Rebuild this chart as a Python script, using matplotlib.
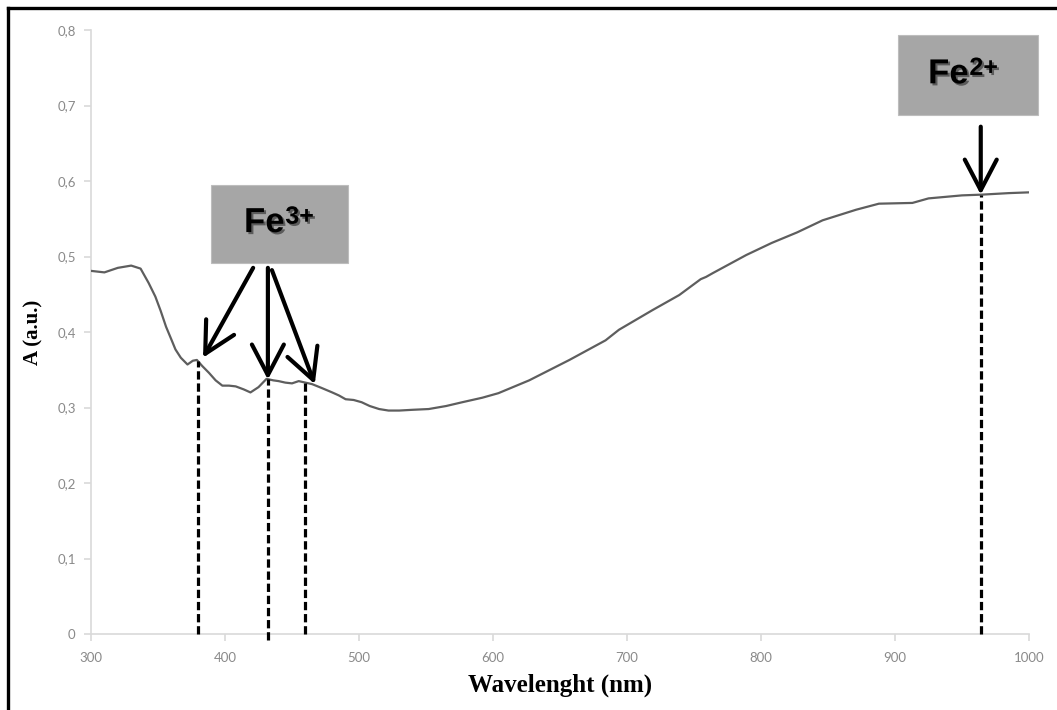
import numpy as np
import matplotlib
matplotlib.use("Agg")
import matplotlib.pyplot as plt
import matplotlib.patheffects as pe
from matplotlib.patches import Rectangle
from matplotlib.lines import Line2D

# ---- data ----
wavelength = [300, 310, 320, 330, 337, 343, 348, 352, 356, 360, 363, 367, 372, 376,
              379, 383, 388, 393, 398, 403, 408, 414, 419, 425, 431, 436, 440, 445,
              450, 455, 460, 465, 472, 480, 485, 490, 496, 502, 508, 515, 522, 530,
              540, 552, 565, 577, 592, 604, 627, 657, 684, 694, 719, 739, 755, 759,
              764, 789, 808, 827, 846, 871, 888, 913, 925, 950, 965, 985, 1000]
absorbance = [0.481, 0.479, 0.485, 0.488, 0.484, 0.465, 0.447, 0.428, 0.407, 0.390,
              0.377, 0.366, 0.357, 0.362, 0.363, 0.355, 0.346, 0.336, 0.329, 0.329,
              0.328, 0.324, 0.320, 0.327, 0.338, 0.336, 0.335, 0.333, 0.332, 0.335,
              0.333, 0.331, 0.326, 0.320, 0.316, 0.311, 0.310, 0.307, 0.302, 0.298,
              0.296, 0.296, 0.297, 0.298, 0.302, 0.307, 0.313, 0.319, 0.336, 0.363,
              0.389, 0.403, 0.429, 0.449, 0.470, 0.473, 0.478, 0.502, 0.518, 0.532,
              0.548, 0.562, 0.570, 0.571, 0.577, 0.581, 0.582, 0.584, 0.585]
fe3_peaks = [380, 432, 460]
fe2_peaks = [964]
x_ticks = [300, 400, 500, 600, 700, 800, 900, 1000]
y_ticks = [0, 0.1, 0.2, 0.3, 0.4, 0.5, 0.6, 0.7, 0.8]
y_tick_labels = ["0", "0,1", "0,2", "0,3", "0,4", "0,5", "0,6", "0,7", "0,8"]

fig = plt.figure(figsize=(10.57, 7.10), dpi=100)
ax = fig.add_axes([0.0861, 0.1070, 0.8874, 0.8507])

ax.plot(wavelength, absorbance, color='#5e5e5e', lw=1.6, zorder=3)

ax.set_xlim(300, 1000)
ax.set_ylim(0, 0.8)
ax.set_xticks(x_ticks)
ax.set_yticks(y_ticks)
ax.set_yticklabels(y_tick_labels)
for s in ['top', 'right']:
    ax.spines[s].set_visible(False)
for s in ['left', 'bottom']:
    ax.spines[s].set_color('#d9d9d9')
    ax.spines[s].set_linewidth(1.2)
ax.tick_params(axis='both', colors='#d9d9d9', labelcolor='#8a8a8a',
               labelsize=9.5, length=5, width=1.2, direction='out')
ax.tick_params(axis='y', pad=6)
ax.tick_params(axis='x', pad=8)
for lab in ax.get_xticklabels() + ax.get_yticklabels():
    lab.set_family('Lato')

ax.set_xlabel('Wavelenght (nm)', family='Liberation Serif', fontweight='bold',
              fontsize=18, color='black', labelpad=7)
ax.set_ylabel('A (a.u.)', family='Liberation Serif', fontweight='bold',
              fontsize=15, color='black', labelpad=10)

# dashed drop lines
for p in fe3_peaks + fe2_peaks:
    top = np.interp(p, wavelength, absorbance)
    ax.plot([p, p], [-0.008 if p == 432 else 0, top], color='black', lw=2.3,
            dashes=(2.6, 1.2), clip_on=False, zorder=4)

# annotation boxes
shadow = [pe.SimplePatchShadow(offset=(1.5, -1.5), shadow_rgbFace='black', alpha=0.45),
          pe.Normal()]


def ion_label(xc, yc, charge):
    base = ax.text(xc, yc, 'Fe', fontsize=25, fontweight='bold', family='Liberation Sans',
                   ha='right', va='center', color='black', path_effects=shadow,
                   zorder=6, clip_on=False)
    ax.annotate(charge, xy=(1.0, 1.0), xycoords=base, xytext=(0.5, 1.0),
                textcoords='offset points', fontsize=18, fontweight='bold',
                family='Liberation Sans', ha='left', va='top', color='black',
                path_effects=shadow, zorder=6, annotation_clip=False)


ax.add_patch(Rectangle((389.6, 0.491), 102.2, 0.104, facecolor='#a6a6a6',
                       edgecolor='#bdbdbd', lw=0.8, clip_on=False, zorder=5))
ion_label(444.5, 0.545, '3+')
ax.add_patch(Rectangle((902, 0.687), 104.7, 0.106, facecolor='#a6a6a6',
                       edgecolor='#bdbdbd', lw=0.8, clip_on=False, zorder=5))
ion_label(955, 0.742, '2+')

# arrows
arrow_kw = dict(arrowstyle='->,head_length=2.2,head_width=1.15', color='black',
                lw=3.0, shrinkA=0, shrinkB=0, mutation_scale=10)
starts_fe3 = [(421, 0.485), (432, 0.485), (435, 0.482)]
tips_fe3 = [(383.6, 0.366), (432, 0.337), (467, 0.331)]
for s, t in zip(starts_fe3, tips_fe3):
    ax.annotate('', xy=t, xytext=s, arrowprops=arrow_kw, zorder=7)
ax.annotate('', xy=(fe2_peaks[0], np.interp(fe2_peaks[0], wavelength, absorbance)),
            xytext=(fe2_peaks[0], 0.672), arrowprops=arrow_kw, zorder=7)

# outer frame (top and left edges)
fig.add_artist(Line2D([8/1057, 1], [1 - 8/710, 1 - 8/710], color='black', lw=2.4,
                      transform=fig.transFigure))
fig.add_artist(Line2D([8/1057, 8/1057], [0, 1 - 8/710], color='black', lw=2.4,
                      transform=fig.transFigure))

fig.savefig('out.png', dpi=100)
